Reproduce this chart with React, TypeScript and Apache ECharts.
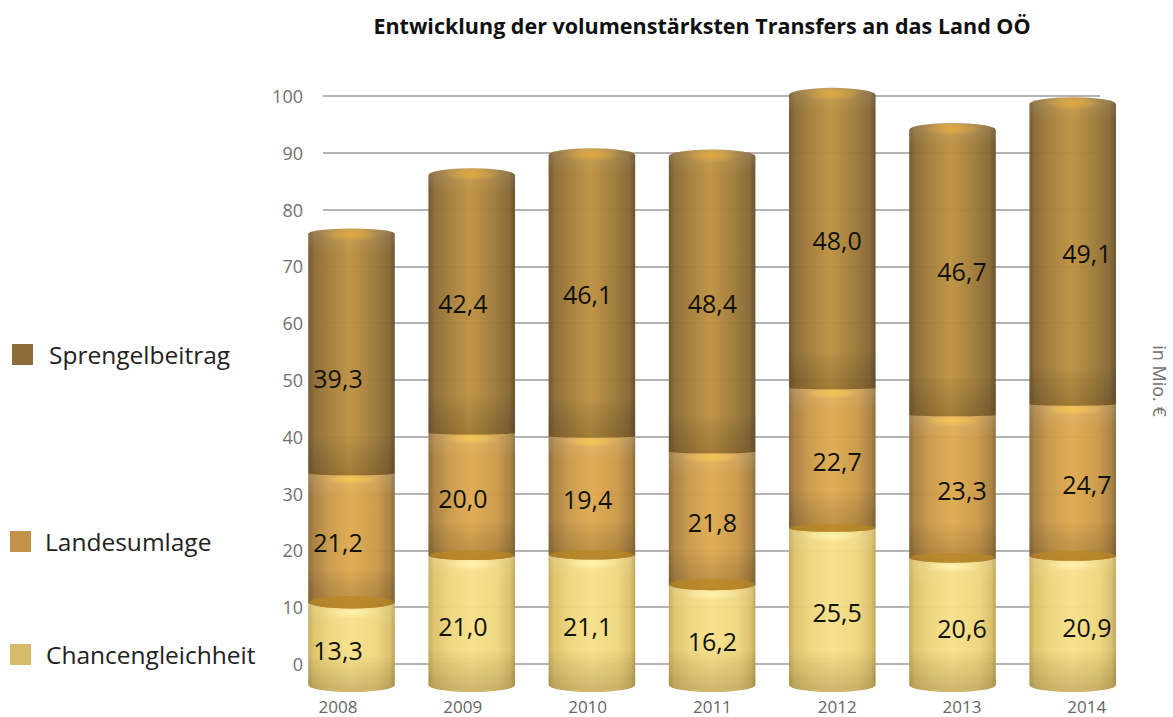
import React, { useEffect, useRef } from "react";
import * as echarts from "echarts";

const years = ["2008", "2009", "2010", "2011", "2012", "2013", "2014"];
const chancengleichheit = [13.3, 21.0, 21.1, 16.2, 25.5, 20.6, 20.9];
const landesumlage = [21.2, 20.0, 19.4, 21.8, 22.7, 23.3, 24.7];
const sprengelbeitrag = [39.3, 42.4, 46.1, 48.4, 48.0, 46.7, 49.1];
const valueTicks = [0, 10, 20, 30, 40, 50, 60, 70, 80, 90, 100];

const FONT = '"Open Sans", sans-serif';

const palette: Record<string, { stops: [number, string][]; lens: string | null; legend: string; glow: string }> = {
  Chancengleichheit: {
    stops: [[0, "#c4a854"], [0.06, "#dcc26a"], [0.25, "#eed67c"], [0.5, "#f8e088"], [0.8, "#eed67c"], [0.95, "#d8be68"], [1, "#bb9f50"]],
    lens: null,
    legend: "#d5bb6a",
    glow: "#fff3ad",
  },
  Landesumlage: {
    stops: [[0, "#8d6a34"], [0.07, "#aa8040"], [0.25, "#cb9a49"], [0.5, "#e0aa50"], [0.8, "#c99846"], [0.95, "#a67e3e"], [1, "#866633"]],
    lens: "#b98722",
    legend: "#c2924a",
    glow: "#f6c653",
  },
  Sprengelbeitrag: {
    stops: [[0, "#705429"], [0.07, "#8b6a34"], [0.25, "#a47d38"], [0.48, "#bf9140"], [0.75, "#9f7a38"], [0.93, "#856634"], [1, "#674d26"]],
    lens: null,
    legend: "#8f6d3a",
    glow: "#e0a93e",
  },
};

const curve = (y: number) => Math.max(1.5, Math.min(7, Math.abs(y - 400) * 0.03));

function cylinder(name: string, isTop: boolean) {
  const p = palette[name];
  return (params: any, api: any) => {
    const cat = api.value(0);
    const [xc, yB] = api.coord([cat, api.value(1)]);
    const [, yT] = api.coord([cat, api.value(2)]);
    const w = api.size([1, 0])[0] * 0.72;
    const x0 = xc - w / 2;
    const x1 = xc + w / 2;
    const rx = w / 2;
    const ryB = curve(yB);
    const ryT = curve(yT);
    const topPath = isTop
      ? `M ${x0} ${yT + ryT} A ${rx} ${ryT} 0 0 1 ${x1} ${yT + ryT}`
      : `M ${x0} ${yT - ryT} L ${x1} ${yT - ryT}`;
    const d = `${topPath} L ${x1} ${yB - ryB} A ${rx} ${ryB} 0 0 1 ${x0} ${yB - ryB} Z`;
    const h = yB - yT;
    const children: any[] = [
      {
        type: "path",
        shape: { pathData: d },
        style: {
          fill: new echarts.graphic.LinearGradient(0, 0, 1, 0, p.stops.map(([offset, color]) => ({ offset, color }))),
          opacity: 0.96,
        },
      },
      {
        type: "path",
        shape: { pathData: d },
        style: {
          fill: new echarts.graphic.LinearGradient(0, 0, 0, 1, [
            { offset: 0, color: "rgba(255,255,255,0.12)" },
            { offset: Math.min(0.3, 24 / h), color: "rgba(255,255,255,0)" },
            { offset: Math.max(0.6, 1 - 40 / h), color: "rgba(0,0,0,0)" },
            { offset: 1, color: "rgba(60,35,0,0.22)" },
          ]),
        },
      },
      {
        type: "ellipse",
        shape: { cx: xc, cy: yT + (isTop ? 6 : 4), rx: w * 0.33, ry: isTop ? 7 : 6 },
        style: {
          fill: new echarts.graphic.RadialGradient(0.5, 0.5, 0.5, [
            { offset: 0, color: p.glow },
            { offset: 1, color: p.glow + "00" },
          ]),
        },
      },
    ];
    if (p.lens) {
      children.push({
        type: "ellipse",
        shape: { cx: xc, cy: yB - ryB, rx: rx - 1, ry: ryB },
        style: { fill: p.lens, opacity: 0.7 },
      });
    }
    return { type: "group", children };
  };
}

function stackedTriples(values: number[], below: number[][]) {
  return values.map((v, i) => {
    const start = below.reduce((s, arr) => s + arr[i], 0);
    return [i, start, start + v];
  });
}

const fmt = (p: any) => Number(p.value).toFixed(1).replace(".", ",");

export default function App() {
  const ref = useRef<HTMLDivElement>(null);
  useEffect(() => {
    const chart = echarts.init(ref.current!, undefined, { renderer: "svg" });
    const seriesDefs = [
      { name: "Chancengleichheit", values: chancengleichheit, below: [] as number[][], top: false },
      { name: "Landesumlage", values: landesumlage, below: [chancengleichheit], top: false },
      { name: "Sprengelbeitrag", values: sprengelbeitrag, below: [chancengleichheit, landesumlage], top: true },
    ];
    const legendAt = (name: string, left: number, top: number, pad: number) => ({
      left,
      top,
      padding: 0,
      orient: "horizontal" as const,
      itemWidth: 21,
      itemHeight: 21,
      selectedMode: false,
      data: [{ name, icon: "rect", itemStyle: { color: palette[name].legend } }],
      textStyle: { fontFamily: FONT, fontSize: 24.5, color: "#222", padding: [0, 0, 0, pad] },
    });
    chart.setOption({
      animation: false,
      backgroundColor: "#ffffff",
      title: {
        text: "Entwicklung der volumenstärksten Transfers an das Land OÖ",
        left: 697,
        textAlign: "center",
        top: 9,
        textStyle: { fontFamily: FONT, fontSize: 21.5, fontWeight: "bold", color: "#111" },
      },
      legend: [
        legendAt("Sprengelbeitrag", 12, 342, 11),
        legendAt("Landesumlage", 10, 529, 9),
        legendAt("Chancengleichheit", 10, 642, 10),
      ],
      grid: [
        { left: 323, width: 777, top: 96, height: 568 },
        { left: 291.4, width: 841.4, top: 64, height: 628 },
        { left: 275.6, width: 873.6, top: 66, height: 626 },
      ],
      xAxis: [
        { type: "value", gridIndex: 0, show: false, min: 0, max: 1 },
        { type: "category", gridIndex: 1, data: years, show: false },
        {
          type: "category",
          gridIndex: 2,
          data: years,
          axisLine: { show: false },
          axisTick: { show: false },
          axisLabel: { fontFamily: FONT, fontSize: 17, color: "#666", margin: 6 },
        },
      ],
      yAxis: [
        {
          type: "value",
          gridIndex: 0,
          min: 0,
          max: valueTicks[valueTicks.length - 1],
          interval: valueTicks[1] - valueTicks[0],
          axisLine: { show: false },
          axisTick: { show: false },
          axisLabel: { fontFamily: FONT, fontSize: 18, color: "#707070", margin: 20 },
          splitLine: { show: true, lineStyle: { color: "#b4b4b4", width: 2 } },
        },
        { type: "value", gridIndex: 1, min: 0, max: 100, show: false, splitLine: { show: false } },
        { type: "value", gridIndex: 2, min: 0, max: 100, show: false, splitLine: { show: false } },
      ],
      series: [
        ...seriesDefs.map((s) => ({
          type: "custom",
          name: s.name,
          xAxisIndex: 1,
          yAxisIndex: 1,
          clip: false,
          silent: true,
          encode: { x: 0, y: [1, 2] },
          itemStyle: { color: palette[s.name].legend },
          renderItem: cylinder(s.name, s.top),
          data: stackedTriples(s.values, s.below),
        })),
        ...seriesDefs.map((s) => ({
          type: "bar",
          name: s.name + " Werte",
          xAxisIndex: 2,
          yAxisIndex: 2,
          stack: "labels",
          silent: true,
          z: 5,
          barWidth: "60%",
          itemStyle: { color: "rgba(0,0,0,0)" },
          label: {
            show: true,
            position: "inside",
            formatter: fmt,
            fontFamily: FONT,
            fontSize: 25,
            color: "#111",
          },
          data: s.values.map((v, i) =>
            s.name === "Sprengelbeitrag" && i === 0 ? { value: v, label: { offset: [0, 25] } } : v,
          ),
        })),
      ],
      graphic: [
        {
          type: "text",
          x: 1160,
          y: 381,
          rotation: -Math.PI / 2,
          style: {
            text: "in Mio. €",
            fontFamily: FONT,
            fontSize: 18,
            fill: "#707070",
            textAlign: "center",
            textVerticalAlign: "middle",
          },
        },
      ],
    });
    return () => chart.dispose();
  }, []);
  return (
    <div
      ref={ref}
      style={{ position: "fixed", left: 0, top: 0, width: 1173, height: 717, background: "#fff" }}
    />
  );
}
